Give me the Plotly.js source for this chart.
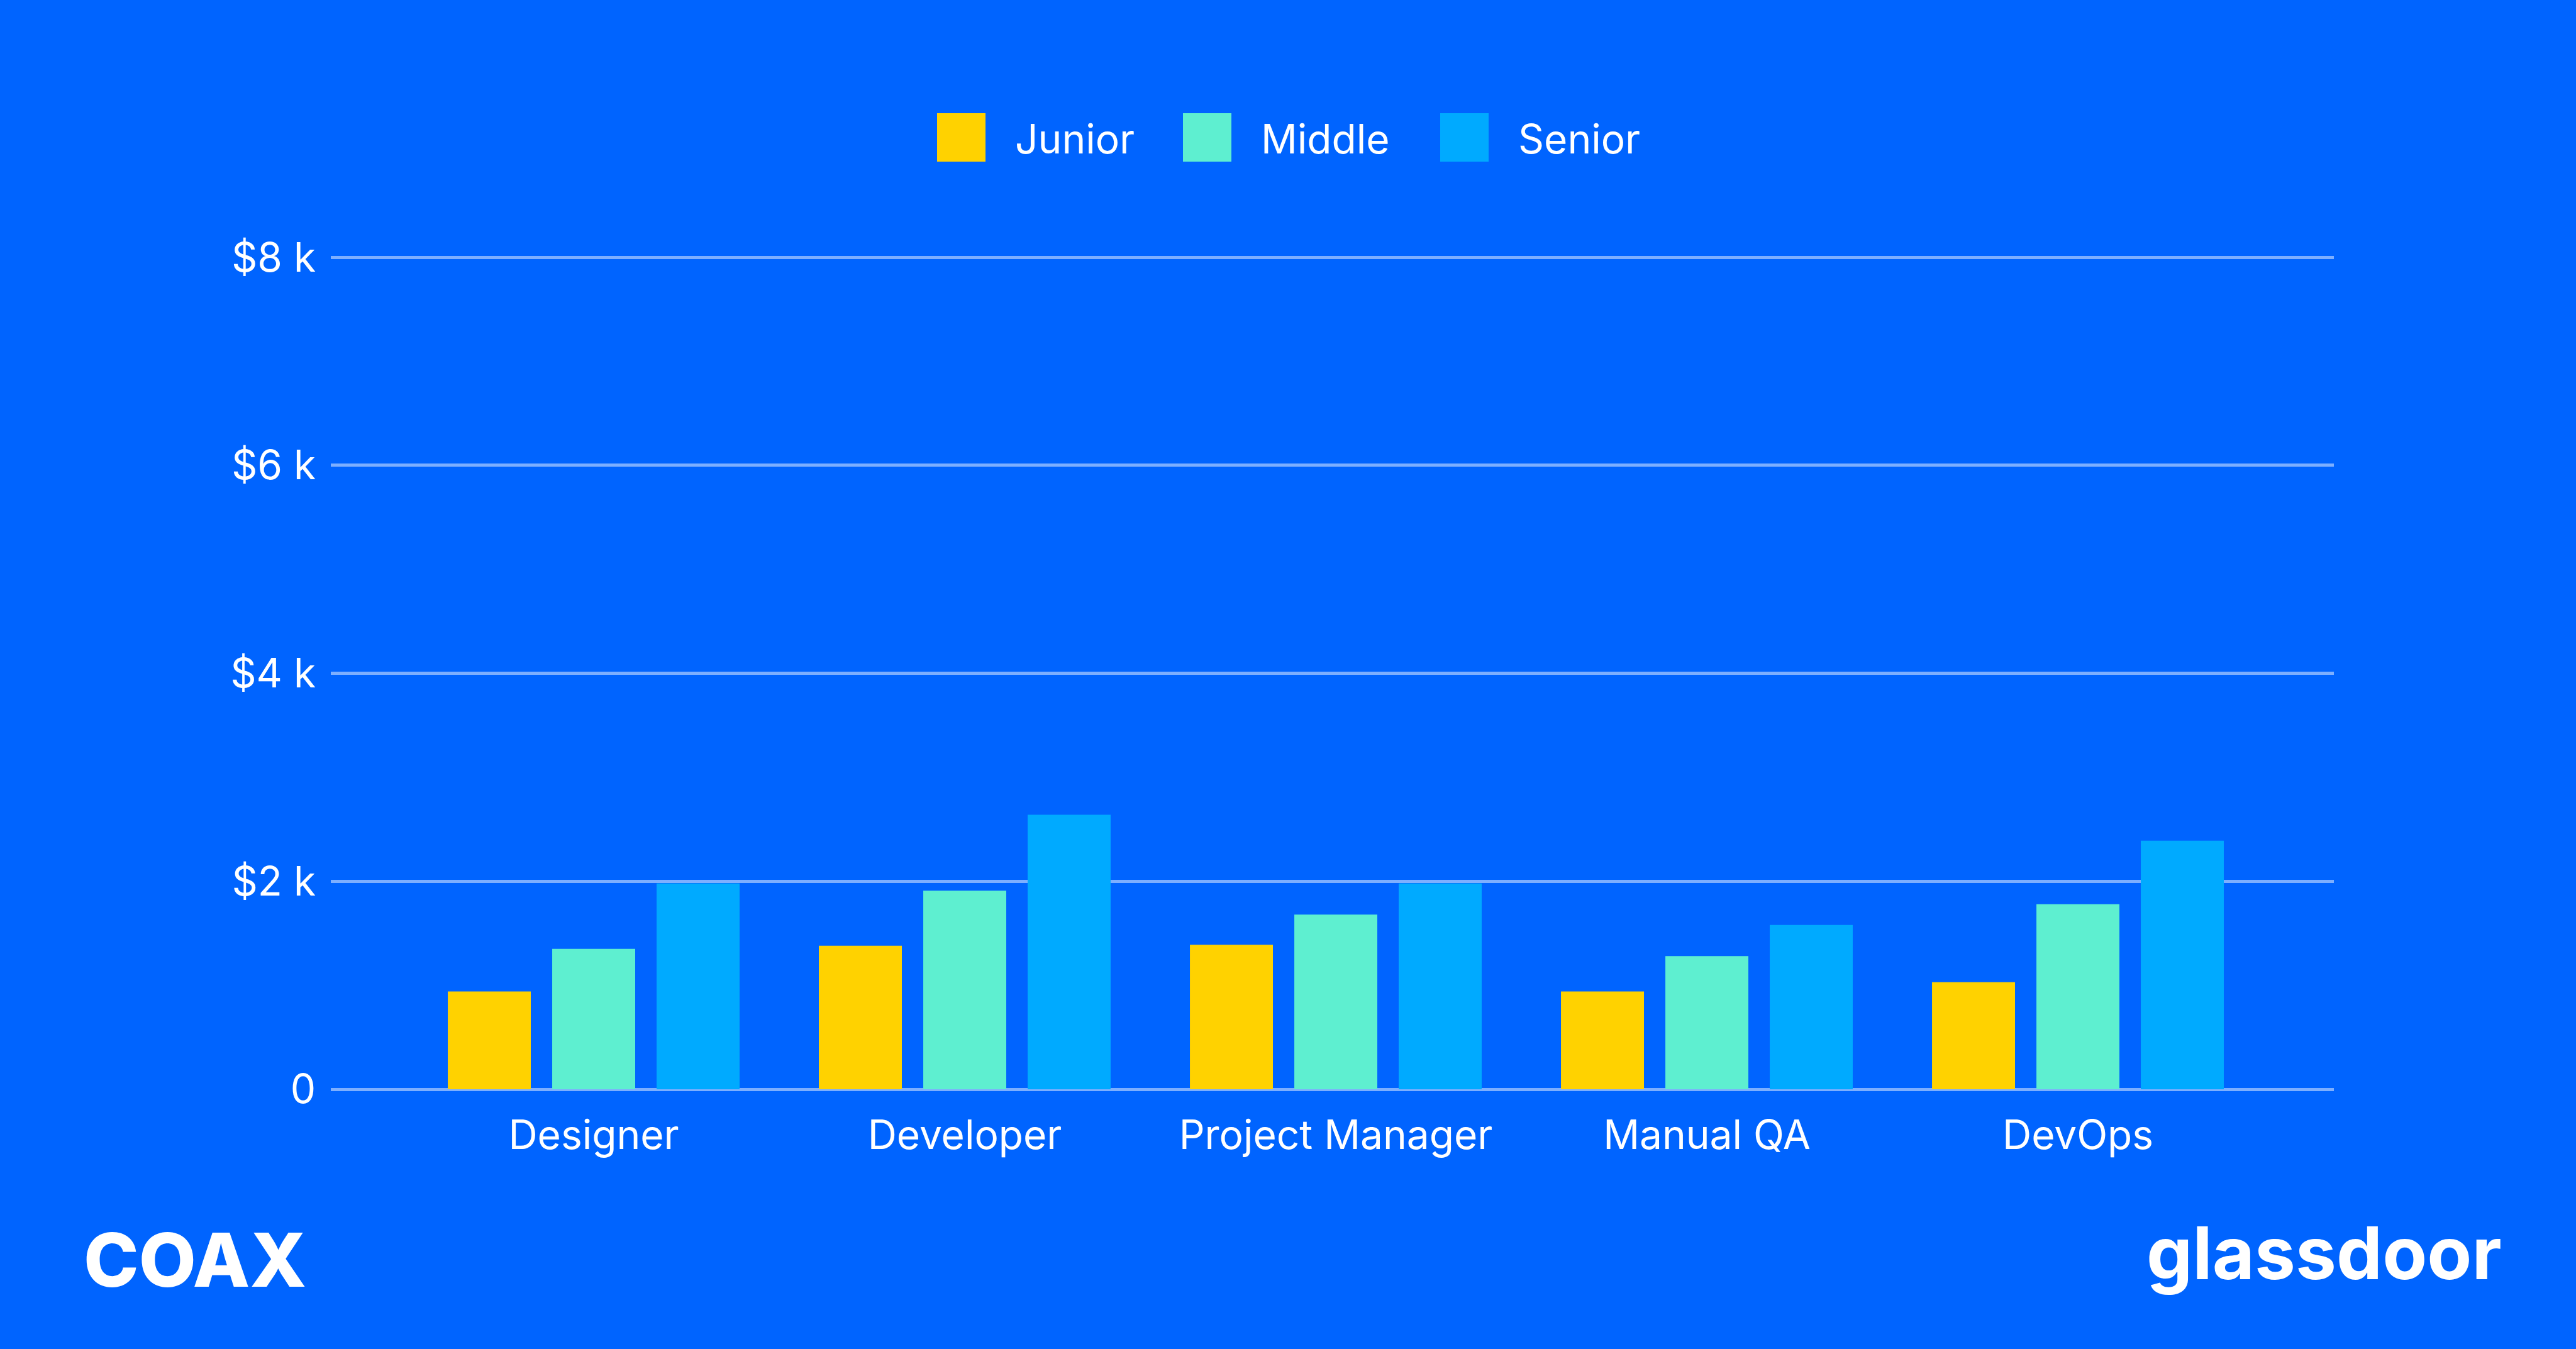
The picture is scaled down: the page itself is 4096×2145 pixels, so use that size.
<!DOCTYPE html>
<html>
<head>
<meta charset="utf-8">
<script src="https://cdn.plot.ly/plotly-3.0.1.min.js"></script>
<style>
html,body{margin:0;padding:0;background:#0064FF;}
#chart{width:4096px;height:2145px;}
</style>
</head>
<body>
<div id="chart"></div>
<script>
// ---- data ----
const categories = ["Designer", "Developer", "Project Manager", "Manual QA", "DevOps"];
const seriesNames = ["Junior", "Middle", "Senior"];
const junior = [940, 1380, 1390, 940, 1030];
const middle = [1350, 1910, 1680, 1280, 1780];
const senior = [1980, 2640, 1980, 1580, 2390];
const seriesColors = ["#FFD200", "#5EEFD0", "#00AAFF"];
const yTickVals = [0, 2000, 4000, 6000, 8000];
const yTickText = ["0", "$2 k", "$4 k", "$6 k", "$8 k"];

// ---- layout geometry (pixels of the 4096x2145 canvas) ----
const W = 4096, H = 2145;
const M = {l: 526, r: W - 3711, t: 406, b: H - 1732};
const plotW = W - M.l - M.r, plotH = H - M.t - M.b;
const px = v => (v - M.l) / plotW;
const py = v => (H - M.b - v) / plotH;

const FONT = "Inter, 'Noto Sans', sans-serif";
const values = [junior, middle, senior];

const traces = seriesNames.map((name, i) => ({
  type: "bar",
  name: name,
  x: categories,
  y: values[i],
  marker: {color: seriesColors[i], line: {width: 0}},
  hoverinfo: "skip"
}));

// custom legend (large square swatches)
const legendX = [1490, 1881, 2290];
const swatch = 77;
const legendTop = 180;
const shapes = [];
const annotations = [];
seriesNames.forEach((name, i) => {
  shapes.push({
    type: "rect", xref: "paper", yref: "paper",
    x0: px(legendX[i]), x1: px(legendX[i] + swatch),
    y0: py(legendTop + swatch), y1: py(legendTop),
    fillcolor: seriesColors[i], line: {width: 0}
  });
  annotations.push({
    xref: "paper", yref: "paper",
    x: px(legendX[i] + swatch + 45), y: py(legendTop + swatch / 2 + 2),
    xanchor: "left", yanchor: "middle",
    text: name, showarrow: false,
    font: {family: FONT, size: 64, color: "#FFFFFF"}
  });
});

// brand marks
annotations.push({
  xref: "paper", yref: "paper",
  x: px(310), y: py(2003),
  xanchor: "center", yanchor: "middle",
  text: "COAX", showarrow: false,
  font: {family: FONT, size: 118, color: "#FFFFFF", weight: 800}
});
annotations.push({
  xref: "paper", yref: "paper",
  x: px(3980), y: py(1992),
  xanchor: "right", yanchor: "middle",
  text: "glassdoor", showarrow: false,
  font: {family: FONT, size: 116, color: "#FFFFFF", weight: 700}
});

const layout = {
  width: W, height: H,
  paper_bgcolor: "#0064FF",
  plot_bgcolor: "#0064FF",
  margin: M,
  showlegend: false,
  barmode: "group",
  bargap: 0.156,
  bargroupgap: 0.205,
  font: {family: FONT, color: "#FFFFFF", size: 64},
  xaxis: {
    type: "category",
    range: [-0.7085, 4.6898],
    showgrid: false,
    zeroline: false,
    showline: false,
    ticks: "",
    ticklabelstandoff: 30,
    tickfont: {family: FONT, size: 64, color: "#FFFFFF"},
    fixedrange: true
  },
  yaxis: {
    range: [0, 8020],
    tickvals: yTickVals,
    ticktext: yTickText,
    showgrid: true,
    gridcolor: "#7DAFFF",
    gridwidth: 5,
    zeroline: true,
    zerolinecolor: "#7DAFFF",
    zerolinewidth: 5,
    showline: false,
    ticks: "",
    ticklabelstandoff: 23,
    tickfont: {family: FONT, size: 64, color: "#FFFFFF"},
    fixedrange: true
  },
  shapes: shapes,
  annotations: annotations
};

Plotly.newPlot("chart", traces, layout, {displayModeBar: false, staticPlot: true});
</script>
</body>
</html>
